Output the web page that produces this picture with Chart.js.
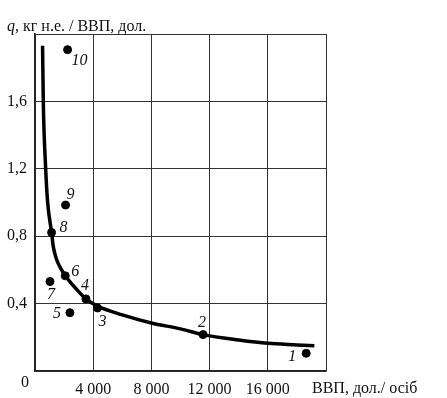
<!DOCTYPE html>
<html>
<head>
<meta charset="utf-8">
<script src="https://cdn.jsdelivr.net/npm/chart.js@4.4.0/dist/chart.umd.min.js"></script>
<style>
  html, body { margin: 0; padding: 0; background: #fff; }
  #wrap { width: 447px; height: 398px; }
</style>
</head>
<body>
<div id="wrap"><canvas id="chart" width="447" height="398"></canvas></div>
<script>
// country points (numbered as in the source)
const pointNames = ["1", "2", "3", "4", "5", "6", "7", "8", "9", "10"];
const pointX = [18640, 11550, 4300, 3500, 2400, 2080, 1030, 1140, 2100, 2240];
const pointY = [0.105, 0.216, 0.374, 0.428, 0.346, 0.565, 0.531, 0.822, 0.985, 1.907];

// fitted curve q(GDP)
const curveX = [520, 570, 734, 870, 1143, 1257, 1490, 1830, 2080, 2800, 3500, 4300, 6000, 8000, 10000, 11550, 14000, 16000, 18000, 19200];
const curveY = [1.93, 1.60, 1.20, 1.00, 0.82, 0.738, 0.66, 0.60, 0.565, 0.49, 0.428, 0.385, 0.333, 0.285, 0.25, 0.216, 0.184, 0.164, 0.155, 0.150];

// axis ticks
const xTicks = [0, 4000, 8000, 12000, 16000, 20000];
const yTicks = [0, 0.4, 0.8, 1.2, 1.6, 2.0];

// where each number sits relative to its dot (px)
const labelShift = {
  "1": [-14, 3], "2": [-1, -12], "3": [5, 14], "4": [-1, -13], "5": [-13, 1],
  "6": [10, -4], "7": [1, 13], "8": [12, -5], "9": [5, -10], "10": [12, 11]
};

const serif = "'Liberation Serif', 'DejaVu Serif', serif";

const fmtX = v => v === 0 || v === 20000 ? "" : String(v).replace(/\B(?=(\d{3})+(?!\d))/g, " ");
const fmtY = v => v === 0 || v > 1.9 ? "" : v.toFixed(1).replace(".", ",");

const extras = {
  id: "extras",
  afterDatasetsDraw(chart) {
    const { ctx, scales: { x, y } } = chart;
    ctx.save();
    ctx.fillStyle = "#111";
    ctx.textAlign = "center";
    ctx.textBaseline = "middle";
    ctx.font = "italic 16px " + serif;
    pointNames.forEach((n, i) => {
      const s = labelShift[n];
      ctx.fillText(n, x.getPixelForValue(pointX[i]) + s[0], y.getPixelForValue(pointY[i]) + s[1]);
    });
    // origin
    ctx.font = "16px " + serif;
    ctx.fillText("0", x.getPixelForValue(0) - 10, y.getPixelForValue(0) + 12);
    // x title
    ctx.textAlign = "left";
    ctx.fillText("ВВП, дол./ осіб", 312, 389);
    // y title
    ctx.font = "italic 16px " + serif;
    ctx.fillText("q", 7, 27);
    const qw = ctx.measureText("q").width;
    ctx.font = "16px " + serif;
    ctx.fillText(", кг н.е. / ВВП, дол.", 7 + qw, 27);
    ctx.restore();
  }
};

new Chart(document.getElementById("chart"), {
  type: "scatter",
  data: {
    datasets: [
      {
        data: curveX.map((v, i) => ({ x: v, y: curveY[i] })),
        showLine: true,
        borderColor: "#000",
        borderWidth: 3.5,
        pointRadius: 0,
        cubicInterpolationMode: "monotone",
        order: 2
      },
      {
        data: pointX.map((v, i) => ({ x: v, y: pointY[i] })),
        backgroundColor: "#000",
        borderColor: "#000",
        pointRadius: 4,
        order: 1
      }
    ]
  },
  options: {
    responsive: false,
    animation: false,
    layout: { padding: { top: 34, right: 121, left: 7, bottom: 0 } },
    plugins: { legend: { display: false }, tooltip: { enabled: false } },
    scales: {
      x: {
        type: "linear",
        min: 0, max: 20000,
        afterBuildTicks: s => { s.ticks = xTicks.map(v => ({ value: v })); },
        afterFit: s => { s.height = 27; },
        grid: { color: "#333", lineWidth: 1, drawTicks: false },
        border: { color: "#222", width: 1.5 },
        ticks: { callback: fmtX, color: "#111", padding: 9, maxRotation: 0, font: { family: serif, size: 16 } }
      },
      y: {
        min: 0, max: 2.0,
        afterBuildTicks: s => { s.ticks = yTicks.map(v => ({ value: v })); },
        afterFit: s => { s.width = 28; },
        grid: { color: "#333", lineWidth: 1, drawTicks: false },
        border: { color: "#222", width: 1.5 },
        ticks: { callback: fmtY, color: "#111", padding: 6, crossAlign: "far", font: { family: serif, size: 16 } }
      }
    }
  },
  plugins: [extras]
});
</script>
</body>
</html>
